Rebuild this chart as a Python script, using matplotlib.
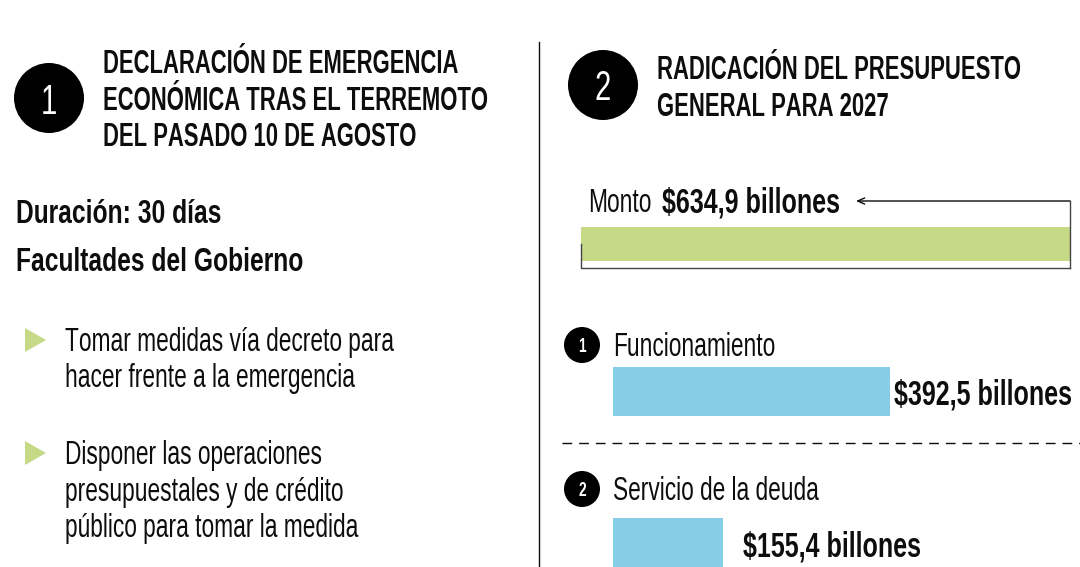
import tempfile
import os

import matplotlib
matplotlib.use('Agg')
import matplotlib.pyplot as plt
from matplotlib import font_manager
from matplotlib.font_manager import FontProperties
from matplotlib.patches import Circle, Polygon
from fontTools.ttLib import TTFont

W, H = 1080, 567

titulo_1 = ['DECLARACIÓN DE EMERGENCIA', 'ECONÓMICA TRAS EL TERREMOTO', 'DEL PASADO 10 DE AGOSTO']
titulo_2 = ['RADICACIÓN DEL PRESUPUESTO', 'GENERAL PARA 2027']
subtitulos = ['Duración: 30 días', 'Facultades del Gobierno']
medida_1 = ['Tomar medidas vía decreto para', 'hacer frente a la emergencia']
medida_2 = ['Disponer las operaciones', 'presupuestales y de crédito', 'público para tomar la medida']
monto = 634.9
monto_etiqueta = '$634,9 billones'
rubros = ['Funcionamiento', 'Servicio de la deuda']
valores = [392.5, 155.4]
etiquetas = ['$392,5 billones', '$155,4 billones']

VERDE = '#c5d986'
AZUL = '#87cde6'
NEGRO = '#0d0d0d'


# no hay fuente condensada en la lista, se estrecha Liberation Sans
def condensar(weight, fx, etiqueta):
    origen = font_manager.findfont(FontProperties(family='Liberation Sans', weight=weight))
    f = TTFont(origen)
    glyf = f['glyf']
    hmtx = f['hmtx']
    for nombre in f.getGlyphOrder():
        g = glyf[nombre]
        if g.isComposite():
            for c in g.components:
                c.x = round(c.x * fx)
        elif g.numberOfContours > 0:
            g.coordinates.scale((fx, 1))
            g.coordinates.toInt()
        g.removeHinting() if g.numberOfContours != 0 else None
        adv, lsb = hmtx[nombre]
        hmtx[nombre] = (round(adv * fx), round(lsb * fx))
    for tabla in ['fpgm', 'prep', 'cvt ', 'kern', 'GPOS', 'GSUB', 'GDEF', 'hdmx', 'VDMX', 'LTSH']:
        if tabla in f:
            del f[tabla]
    salida = os.path.join(tempfile.mkdtemp(), etiqueta + '.ttf')
    f.save(salida)
    return salida


FUENTE_REG = condensar('normal', 0.68, 'reg')
FUENTE_CAPS = condensar('bold', 0.66, 'caps')
FUENTE_BOLD = condensar('bold', 0.72, 'bold')

fig = plt.figure(figsize=(W / 100, H / 100), dpi=100)
ax = fig.add_axes([0, 0, 1, 1])
ax.set_xlim(0, W)
ax.set_ylim(H, 0)
ax.axis('off')


def txt(x, y, s, size=24, fuente=FUENTE_REG, ha='left', color=NEGRO):
    fp = FontProperties(fname=fuente, size=size)
    return ax.text(x, y - 1, s, fontproperties=fp, ha=ha, va='center_baseline', color=color)


def numero(x, y, r, s, size, fuente=FUENTE_REG):
    ax.add_patch(Circle((x, y), r, color='black', lw=0))
    txt(x, y + 1, s, size, fuente, ha='center', color='white')


numero(49, 98, 35, '1', 31)
numero(603, 85, 35, '2', 31)

for i, linea in enumerate(titulo_1):
    txt(103, 62 + i * 36.5, linea, 24, FUENTE_CAPS)
for i, linea in enumerate(titulo_2):
    txt(657, 68 + i * 36.5, linea, 24, FUENTE_CAPS)

for y, s in zip([212, 260], subtitulos):
    txt(16, y, s, 24.6, FUENTE_BOLD)

for y0, lineas in [(340, medida_1), (453, medida_2)]:
    ax.add_patch(Polygon([(25, y0 - 12), (25, y0 + 12), (46, y0)], color=VERDE, lw=0))
    for i, linea in enumerate(lineas):
        txt(65, y0 + i * 36.5, linea, 24)

ax.plot([539, 539], [42, 567], color=NEGRO, lw=1)

# barra del monto total
txt(588, 201, 'Monto', 24)
txt(662, 201, monto_etiqueta, 25, FUENTE_BOLD)
ax.annotate('', xy=(856, 201), xytext=(1070, 201),
            arrowprops=dict(arrowstyle='->,head_length=0.5,head_width=0.22', color=NEGRO, lw=1,
                            shrinkA=0, shrinkB=0))
ax.plot([1070, 1070], [201, 268], color='#444444', lw=1)
ax.plot([581, 581, 1070], [244, 268, 268], color='#444444', lw=1)
ax.barh(244, monto * 489 / 634.9, left=581, height=34, color=VERDE)

# rubros: misma escala entre ellos
escala = 277 / 392.5
for i, y_txt, y_bar, x_et in zip(range(2), [345, 489], [391, 542], [894, 743]):
    numero(582, y_txt, 18, str(i + 1), 15, FUENTE_CAPS)
    txt(613, y_txt, rubros[i], 24)
    ax.barh(y_bar, valores[i] * escala, left=613, height=49, color=AZUL)
    txt(x_et, y_bar + (2 if i == 1 else 1), etiquetas[i], 25, FUENTE_BOLD)

ax.plot([562, 1080], [443, 443], color=NEGRO, lw=1, dashes=(7, 5))

fig.savefig('out.png', dpi=100)
